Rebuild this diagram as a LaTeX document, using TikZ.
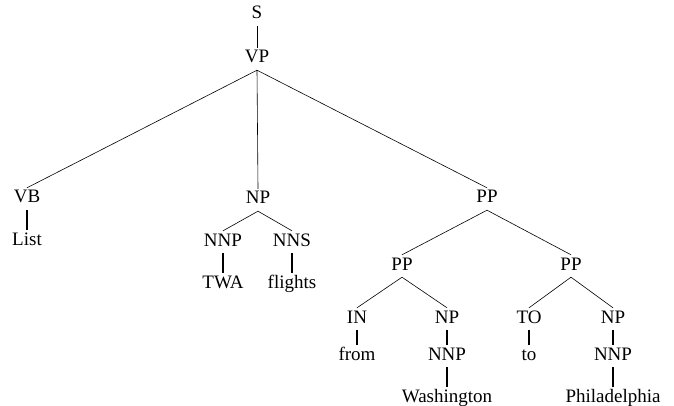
\documentclass[tikz,border=0pt]{standalone}
\usepackage{fontspec}
\setmainfont{Liberation Serif}

\tikzstyle{cat} = [text centered, anchor=base, inner sep=2pt, text height=13pt, text depth=5pt, font=\fontsize{19}{23}\selectfont]
\tikzstyle{word} = [cat]
\tikzstyle{branch} = [line width=0.6pt]
\tikzstyle{leaf} = [line width=1.3pt]

\begin{document}
\begin{tikzpicture}[x=1pt, y=-1pt]
  \useasboundingbox (0,0) rectangle (674,406);
  % categories
  \node[cat] (S) at (257,19) {S};
  \node[cat] (VP) at (257,63) {VP};
  \node[cat] (VB) at (27,203) {VB};
  \node[cat] (NP) at (258,204) {NP};
  \node[cat] (NNPt) at (223,246) {NNP};
  \node[cat] (NNS) at (292,246) {NNS};
  \node[cat] (PP) at (487,203) {PP};
  \node[cat] (PPfrom) at (402,270) {PP};
  \node[cat] (PPto) at (571,270) {PP};
  \node[cat] (IN) at (357,323) {IN};
  \node[cat] (NPfrom) at (447,323) {NP};
  \node[cat] (NNPfrom) at (447,360) {NNP};
  \node[cat] (TO) at (529,323) {TO};
  \node[cat] (NPto) at (613,323) {NP};
  \node[cat] (NNPto) at (613,360) {NNP};
  % words
  \node[word] (list) at (27,245) {List};
  \node[word] (twa) at (223,288) {TWA};
  \node[word] (flights) at (292,288) {flights};
  \node[word] (from) at (357,360) {from};
  \node[word] (washington) at (447,402) {Washington};
  \node[word] (to) at (529,360) {to};
  \node[word] (philadelphia) at (613,402) {Philadelphia};
  % branches
  \draw[branch] (S.south) -- (VP.north);
  \draw[branch] (VP.south) -- (VB.north);
  \draw[branch] (VP.south) -- (NP.north);
  \draw[branch] (VP.south) -- (PP.north);
  \draw[branch] (NP.south) -- (NNPt.north);
  \draw[branch] (NP.south) -- (NNS.north);
  \draw[branch] (PP.south) -- (PPfrom.north);
  \draw[branch] (PP.south) -- (PPto.north);
  \draw[branch] (PPfrom.south) -- (IN.north);
  \draw[branch] (PPfrom.south) -- (NPfrom.north);
  \draw[branch] (PPto.south) -- (TO.north);
  \draw[branch] (PPto.south) -- (NPto.north);
  \draw[leaf] (NPfrom.south) -- (NNPfrom.north);
  \draw[leaf] (NPto.south) -- (NNPto.north);
  % leaves
  \draw[leaf] (VB.south) -- (list.north);
  \draw[leaf] (NNPt.south) -- (twa.north);
  \draw[leaf] (NNS.south) -- (flights.north);
  \draw[leaf] (IN.south) -- (from.north);
  \draw[leaf] (NNPfrom.south) -- (washington.north);
  \draw[leaf] (TO.south) -- (to.north);
  \draw[leaf] (NNPto.south) -- (philadelphia.north);
\end{tikzpicture}
\end{document}
